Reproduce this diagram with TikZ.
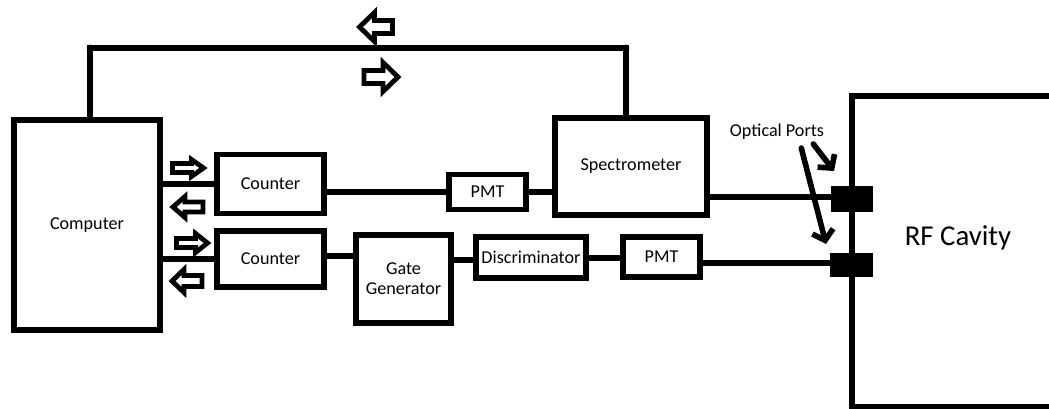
\documentclass[tikz,border=0pt]{standalone}
\usepackage{fontspec}
\setmainfont{Carlito}
\usetikzlibrary{arrows.meta,calc}
\newdimen\pxu \pxu=0.75pt
\newcommand\blockarr[7]{% cx cy dir L H B HL
  \begin{scope}[shift={(#1,#2)},xscale=#3]
    \draw[barrowstyle] (-#4/2,-#6/2) -- ({#4/2-#7},-#6/2) -- ({#4/2-#7},-#5/2) -- (#4/2,0)
      -- ({#4/2-#7},#5/2) -- ({#4/2-#7},#6/2) -- (-#4/2,#6/2) -- cycle;
  \end{scope}}
\begin{document}
\begin{tikzpicture}[x=0.75pt,y=-0.75pt,
  box/.style={draw=black,line width=4.4pt,fill=white,inner sep=0pt,font=\fontsize{13.6pt}{16pt}\selectfont,align=center},
  wire/.style={line width=4.2pt},
  port/.style={fill=black,inner sep=0pt},
  barrowstyle/.style={line width=3.6pt,line join=miter,fill=white},
  ptarrow/.style={line width=4.2pt,line cap=round,-{Straight Barb[length=7pt,width=16pt]}},
  lbl/.style={font=\fontsize{13.6pt}{16pt}\selectfont,inner sep=0pt}]
\useasboundingbox (0,0) rectangle (1049,409);
% boxes
\node[box,minimum width=146\pxu,minimum height=210\pxu] (comp) at (87,225) {Computer};
\node[box,minimum width=107\pxu,minimum height=59\pxu] (c1) at (270.5,184) {Counter};
\node[box,minimum width=107\pxu,minimum height=56\pxu] (c2) at (270.5,259) {Counter};
\node[box,minimum width=77\pxu,minimum height=35\pxu] (pmt1) at (487.5,192) {PMT};
\node[box,minimum width=152\pxu,minimum height=97\pxu] (spec) at (631,166.5) {Spectrometer};
\node[box,minimum width=95\pxu,minimum height=88\pxu] (gg) at (403.5,279) {Gate\\[-1pt]Generator};
\node[box,minimum width=110\pxu,minimum height=41\pxu] (disc) at (531,257.5) {Discriminator};
\node[box,minimum width=77\pxu,minimum height=40\pxu] (pmt2) at (661.5,257) {PMT};
% RF cavity
\draw[wire,line width=4.4pt] (1052,96) -- (852,96) -- (852,407) -- (1052,407);
\node[lbl,font=\fontsize{21.6pt}{24pt}\selectfont] (rf) at (958,238) {RF Cavity};
\node[port,minimum width=42\pxu,minimum height=26\pxu] (port1) at (852,199) {};
\node[port,minimum width=43\pxu,minimum height=24\pxu] (port2) at (851.5,265) {};
% top loop
\coordinate (tl) at (90,48);
\coordinate (tr) at (626,48);
\draw[wire] (comp.north -| tl) -- (tl) -- (tr) -- (spec.north -| tr);
\fill (tl) circle (3.4);
\fill (tr) circle (3.4);
% connectors
\draw[wire] (comp.east |- c1.west) -- (c1.west);
\draw[wire] ([xshift=-4\pxu]comp.east |- c2.west) -- (c2.west);
\draw[wire] (c1.east |- pmt1.west) -- (pmt1.west);
\draw[wire] (pmt1.east) -- (spec.west |- pmt1.east);
\draw[wire] (spec.east |- 0,197) -- (port1.west |- 0,197);
\draw[wire] (c2.east |- 0,256) -- (gg.west |- 0,256);
\draw[wire] (gg.east |- 0,260) -- (disc.west |- 0,260);
\draw[wire] (disc.east |- 0,258) -- (pmt2.west |- 0,258);
\draw[wire] (pmt2.east |- 0,263) -- (port2.west |- 0,263);
% optical ports
\node[lbl] (op) at (777,132) {Optical Ports};
\coordinate (a1) at (834,171);
\coordinate (a2) at (826,244);
\draw[ptarrow] ($(op.south east)+(-11,4)$) -- (a1);
\draw[ptarrow] ($(op.south east)+(-23,8)$) -- (a2);
% block arrows
\blockarr{376}{27}{-1}{33}{29}{13}{15}
\blockarr{381}{77}{1}{34}{29}{13}{15}
\blockarr{188}{168}{1}{31}{17}{9}{12}
\blockarr{188}{207}{-1}{30}{21}{10}{12}
\blockarr{192}{243}{1}{31}{19}{9}{12}
\blockarr{187}{281}{-1}{30}{23}{11}{12}
\end{tikzpicture}
\end{document}
